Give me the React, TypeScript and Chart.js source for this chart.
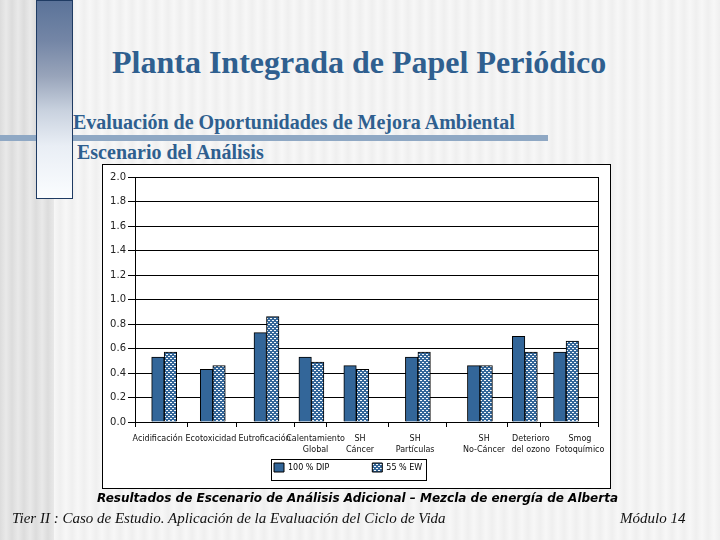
import React, { useEffect, useRef } from "react";
import { Chart, registerables } from "chart.js";

Chart.register(...registerables);

const categories: (string | string[])[] = [
  "Acidificación",
  "Ecotoxicidad",
  "Eutroficación",
  ["Calentamiento", "Global"],
  ["SH", "Cáncer"],
  ["SH", "Partículas"],
  ["SH", "No-Cáncer"],
  ["Deterioro", "del ozono"],
  ["Smog", "Fotoquímico"],
];
const dip = [0.53, 0.43, 0.73, 0.53, 0.46, 0.53, 0.46, 0.7, 0.57];
const ew = [0.57, 0.46, 0.86, 0.49, 0.43, 0.57, 0.46, 0.57, 0.66];
const seriesNames = ["100 % DIP", "55 % EW"];
const yTicks = [0, 0.2, 0.4, 0.6, 0.8, 1.0, 1.2, 1.4, 1.6, 1.8, 2.0];

// The original axis has uneven category slots (percent of axis length).
const slotEdges = [0, 11.4, 22.0, 34.5, 41.4, 54.8, 67.3, 80.5, 87.6, 100];
const barCenters = [6.3, 16.8, 28.4, 38.1, 47.8, 61.1, 74.5, 84.2, 93.1];
const labelCenters = [4.9, 16.4, 28.0, 39.0, 48.6, 60.5, 75.4, 85.5, 96.1];

const BLUE = "#336699";
const SERIF = '"Liberation Serif", serif';
const SANS = '"DejaVu Sans", sans-serif';

function makePattern(): CanvasPattern | string {
  const c = document.createElement("canvas");
  c.width = 4;
  c.height = 4;
  const g = c.getContext("2d");
  if (!g) return BLUE;
  g.fillStyle = "#336699";
  g.fillRect(0, 0, 4, 4);
  g.fillStyle = "#f4f8fb";
  g.fillRect(0, 0, 2, 1);
  g.fillRect(2, 2, 2, 1);
  return g.createPattern(c, "repeat") || BLUE;
}

const text = (s: React.CSSProperties): React.CSSProperties => ({
  position: "absolute",
  whiteSpace: "nowrap",
  margin: 0,
  ...s,
});

export default function App() {
  const ref = useRef<HTMLCanvasElement>(null);

  useEffect(() => {
    if (!ref.current) return;
    const legendPad = 43;
    const chart = new Chart(ref.current, {
      type: "bar",
      data: {
        datasets: [
          {
            label: seriesNames[0],
            data: dip.map((y, i) => ({ x: barCenters[i], y })),
            backgroundColor: BLUE,
            borderColor: "#000",
            borderWidth: 1,
            barThickness: 12.5,
          },
          {
            label: seriesNames[1],
            data: ew.map((y, i) => ({ x: barCenters[i], y })),
            backgroundColor: makePattern() as any,
            borderColor: "#000",
            borderWidth: 1,
            barThickness: 12.5,
          },
        ],
      },
      options: {
        animation: false,
        responsive: false,
        devicePixelRatio: 1,
        layout: { padding: { left: 0, top: 177, right: 122, bottom: 0 } },
        plugins: {
          title: { display: false },
          tooltip: { enabled: false },
          legend: {
            position: "bottom",
            align: "start",
            maxHeight: 1,
            labels: {
              boxWidth: 10,
              boxHeight: 9,
              padding: legendPad,
              color: "#000",
              font: { family: SANS, size: 8 },
            },
          },
        },
        scales: {
          x: {
            type: "linear",
            min: 0,
            max: 100,
            offset: false,
            afterFit: (s: any) => {
              s.height = 117;
            },
            afterBuildTicks: (s: any) => {
              const vals = [...slotEdges, ...labelCenters].sort((a, b) => a - b);
              s.ticks = vals.map((value) => ({ value }));
            },
            grid: {
              offset: false,
              drawOnChartArea: true,
              lineWidth: 1,
              tickLength: 5,
              color: (c: any) => (c.tick && c.tick.value === 100 ? "#000" : "transparent"),
              tickColor: (c: any) =>
                c.tick && slotEdges.includes(c.tick.value) ? "#000" : "transparent",
            },
            border: { color: "#000", width: 1 },
            ticks: {
              autoSkip: false,
              maxRotation: 0,
              minRotation: 0,
              padding: 6,
              color: "#111",
              font: { family: SANS, size: 8, lineHeight: 1.4 },
              callback: (v: any) => {
                const i = labelCenters.indexOf(v);
                return i >= 0 ? categories[i] : "";
              },
            },
          },
          y: {
            min: 0,
            max: 2,
            afterFit: (s: any) => {
              s.width = 135;
            },
            afterBuildTicks: (s: any) => {
              s.ticks = yTicks.map((value) => ({ value }));
            },
            grid: { color: "#000", lineWidth: 1, tickLength: 7, tickColor: "#000" },
            border: { color: "#000", width: 1 },
            ticks: {
              padding: 2,
              color: "#222",
              font: { family: SANS, size: 10 },
              callback: (v: any) => Number(v).toFixed(1),
            },
          },
        },
      },
      plugins: [
        {
          id: "placeLegend",
          afterLayout(c: any) {
            if (c.legend) {
              c.legend.left = 274 - legendPad;
              c.legend.top = 463 - legendPad;
            }
          },
        },
      ],
    } as any);
    return () => chart.destroy();
  }, []);

  return (
    <div
      style={{
        position: "absolute",
        left: 0,
        top: 0,
        width: 720,
        height: 540,
        overflow: "hidden",
        background: "repeating-linear-gradient(90deg,#efefef 0px,#f7f7f7 6px,#efefef 12px)",
      }}
    >
      <div
        style={{
          position: "absolute",
          left: 0,
          top: 0,
          width: 54,
          height: 540,
          background: "repeating-linear-gradient(90deg,#dcdcdc 0px,#e9e9e9 6px,#dcdcdc 12px)",
        }}
      />
      <div style={{ position: "absolute", left: 0, top: 135, width: 548, height: 6, background: "#8fa8c4" }} />
      <div
        style={{
          position: "absolute",
          left: 36,
          top: 0,
          width: 37,
          height: 199,
          boxSizing: "border-box",
          border: "1px solid #1f3b63",
          background:
            "linear-gradient(180deg,#5b7399 0px,#7486a6 40px,#98a4ba 75px,#c9d2df 110px,#e9eef5 145px,#fbfdff 198px)",
        }}
      />
      <h1 style={text({ left: 112, top: 44, font: `bold 32px ${SERIF}`, color: "#2f5f8f" })}>
        Planta Integrada de Papel Periódico
      </h1>
      <div style={text({ left: 73, top: 111, font: `bold 20px ${SERIF}`, color: "#2f5f8f" })}>
        Evaluación de Oportunidades de Mejora Ambiental
      </div>
      <div style={text({ left: 77, top: 141, font: `bold 20px ${SERIF}`, color: "#2f5f8f" })}>
        Escenario del Análisis
      </div>
      <div
        style={{
          position: "absolute",
          left: 102,
          top: 164,
          width: 509,
          height: 325,
          boxSizing: "border-box",
          background: "#fff",
          border: "1px solid #000",
        }}
      />
      <div
        style={{
          position: "absolute",
          left: 271,
          top: 459,
          width: 156,
          height: 22,
          boxSizing: "border-box",
          border: "1px solid #000",
        }}
      />
      <canvas ref={ref} width={720} height={540} style={{ position: "absolute", left: 0, top: 0 }} />
      <div style={text({ left: 97, top: 491, font: `italic bold 12px ${SANS}`, color: "#000" })}>
        Resultados de Escenario de Análisis Adicional – Mezcla de energía de Alberta
      </div>
      <div style={text({ left: 12, top: 510, font: `italic 15px ${SERIF}`, color: "#111" })}>
        Tier II : Caso de Estudio. Aplicación de la Evaluación del Ciclo de Vida
      </div>
      <div style={text({ left: 620, top: 510, font: `italic 15px ${SERIF}`, color: "#111" })}>Módulo 14</div>
    </div>
  );
}
